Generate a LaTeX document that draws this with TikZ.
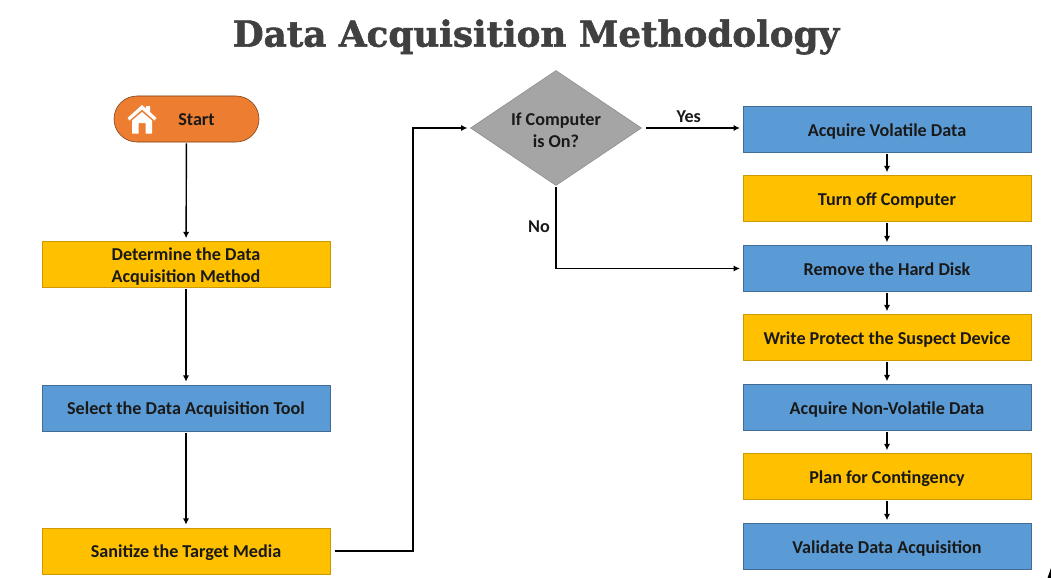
\documentclass[tikz,border=0pt]{standalone}
\usepackage{fontspec}
\setmainfont{Carlito}
\newfontfamily\titlefont[BoldFeatures={FakeBold=1.6}]{DejaVu Serif}
\usetikzlibrary{shapes.geometric,arrows.meta}
\definecolor{boxblue}{HTML}{5B9BD5}
\definecolor{boxgold}{HTML}{FFC000}
\definecolor{boxorange}{HTML}{ED7D31}
\definecolor{boxgrey}{HTML}{A5A5A5}
\tikzset{
    flowfont/.style={font=\fontsize{12.9}{15.6}\selectfont\bfseries,text=black!90},
    oneline/.style={text height=12pt,text depth=2.5pt},
    twolines/.style={text height=27.5pt},
    flowbox/.style={rectangle,minimum width=7.2cm,minimum height=1.16cm,inner sep=0pt,align=center,flowfont},
    bluebox/.style={flowbox,fill=boxblue,draw=boxblue!70!black},
    goldbox/.style={flowbox,fill=boxgold,draw=boxgold!80!black},
    flow/.style={draw=black,line width=1pt,-{Latex[length=4.5pt,width=4.5pt]},shorten >=2pt,shorten <=0.8pt}
}
\begin{document}
\begin{tikzpicture}[x=0.025cm,y=-0.025cm]
    \useasboundingbox (0,0) rectangle (1051,578);
    \node[font=\titlefont\fontsize{25.4}{30}\selectfont\bfseries,text=black!75] (title) at (536,37) {Data Acquisition Methodology};

    % left column
    \node[rectangle,rounded corners=0.575cm,minimum width=3.625cm,minimum height=1.15cm,fill=boxorange,draw=boxorange!50!black,inner sep=0pt,flowfont,oneline] (start) at (186.5,119) {\hspace{0.5cm}Start};
    \node[goldbox,twolines] (method) at (186,264.5) {Determine the Data\\Acquisition Method};
    \node[bluebox,oneline] (tool) at (186,408) {Select the Data Acquisition Tool};
    \node[goldbox,oneline] (media) at (186,551) {Sanitize the Target Media};

    % house icon
    \fill[white] (142,105) -- (146,108.5) -- (146,106) -- (150,106) -- (150,112) -- (156.5,118) -- (154.5,120.5) -- (142,109.5) -- (129.5,120.5) -- (127.5,118) -- cycle;
    \fill[white] (142,112) -- (152,120.5) -- (152,133.5) -- (145.5,133.5) -- (145.5,123) -- (138.5,123) -- (138.5,133.5) -- (132,133.5) -- (132,120.5) -- cycle;

    % decision
    \node[diamond,aspect=1.49,minimum width=4.275cm,minimum height=2.875cm,inner sep=0pt,fill=boxgrey,draw=boxgrey!85!black,align=center,flowfont,twolines] (computer) at (556,128) {If Computer\\is On?};

    % right column
    \node[bluebox,oneline] (volatile) at (887,129.5) {Acquire Volatile Data};
    \node[goldbox,oneline] (turnoff) at (887,198.5) {Turn off Computer};
    \node[bluebox,oneline] (disk) at (887,268.5) {Remove the Hard Disk};
    \node[goldbox,oneline] (protect) at (887,337.5) {Write Protect the Suspect Device};
    \node[bluebox,oneline] (nonvolatile) at (887,407.5) {Acquire Non-Volatile Data};
    \node[goldbox,oneline] (contingency) at (887,476.5) {Plan for Contingency};
    \node[bluebox,oneline] (validate) at (887,546.5) {Validate Data Acquisition};

    \coordinate (bend) at (413,128);

    \draw[flow] (start) -- (method);
    \draw[flow] (method) -- (tool);
    \draw[flow] (tool) -- (media);
    \draw[flow,shorten <=3pt] (media.east) -| (bend) -- (computer.west);
    \draw[flow,shorten <=3pt] (computer.east) -- node[above=0pt,xshift=-2.5pt,flowfont] (yes) {Yes} (computer.east -| volatile.west);
    \draw[flow] (computer.south) |- node[pos=0.25,left=0.5pt,flowfont] (no) {No} (disk.west);
    \foreach \a/\b in {volatile/turnoff,turnoff/disk,disk/protect,protect/nonvolatile,nonvolatile/contingency,contingency/validate}
        \draw[flow] (\a) -- (\b);

    % clipped mark in the corner
    \fill[black] (1047.5,578) -- (1051,568) -- (1051,578) -- cycle;
\end{tikzpicture}
\end{document}
